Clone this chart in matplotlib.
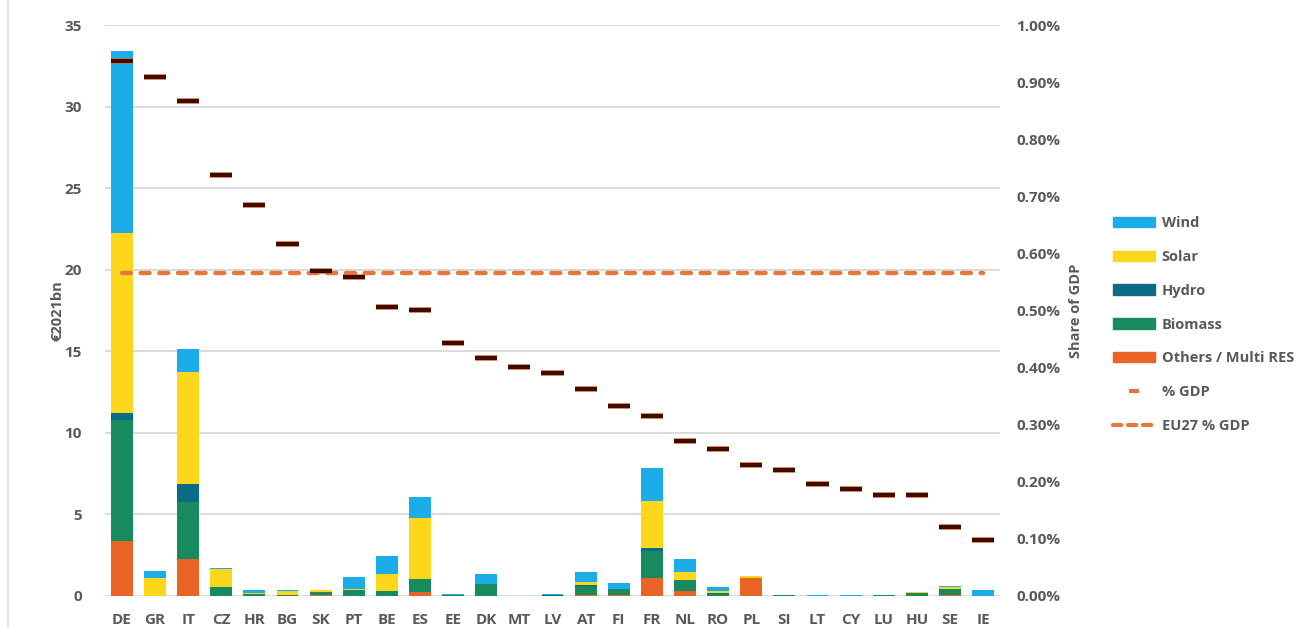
import matplotlib
matplotlib.use("Agg")
import matplotlib.pyplot as plt
import matplotlib.patheffects as pe
from matplotlib.lines import Line2D
from matplotlib.patches import Patch
from matplotlib.ticker import FuncFormatter, MultipleLocator
import numpy as np

countries = ["DE", "GR", "IT", "CZ", "HR", "BG", "SK", "PT", "BE", "ES", "EE", "DK", "MT", "LV",
             "AT", "FI", "FR", "NL", "RO", "PL", "SI", "LT", "CY", "LU", "HU", "SE", "IE"]

# support by technology, €2021bn
others = [3.35, 0, 2.24, 0, 0, 0, 0.08, 0, 0, 0.25, 0, 0, 0, 0,
          0.05, 0.04, 1.09, 0.30, 0, 1.10, 0, 0, 0, 0, 0, 0.08, 0]
biomass = [7.45, 0, 3.50, 0.52, 0.12, 0.03, 0.16, 0.35, 0.29, 0.80, 0.03, 0.72, 0, 0.02,
           0.58, 0.36, 1.65, 0.65, 0.14, 0, 0.07, 0, 0, 0.06, 0.18, 0.37, 0]
hydro = [0.40, 0, 1.12, 0, 0.03, 0, 0, 0.04, 0, 0, 0, 0, 0, 0.04,
         0.05, 0.05, 0.18, 0, 0.04, 0, 0, 0, 0, 0, 0, 0, 0]
solar = [11.05, 1.12, 6.89, 1.16, 0.05, 0.28, 0.15, 0.06, 1.07, 3.75, 0, 0.04, 0, 0,
         0.20, 0, 2.91, 0.52, 0.14, 0.15, 0.02, 0, 0.01, 0.02, 0.04, 0.12, 0]
wind = [11.15, 0.42, 1.38, 0.06, 0.17, 0.04, 0, 0.72, 1.10, 1.26, 0.08, 0.57, 0, 0.05,
        0.56, 0.33, 2.01, 0.78, 0.26, 0, 0, 0.05, 0.04, 0, 0.02, 0.03, 0.35]

# share of GDP, %
gdp_share = [0.937, 0.909, 0.867, 0.737, 0.685, 0.616, 0.569, 0.559, 0.506, 0.501, 0.443,
             0.417, 0.401, 0.391, 0.363, 0.333, 0.315, 0.271, 0.257, 0.229, 0.221, 0.196,
             0.187, 0.177, 0.177, 0.121, 0.098]
eu27_share = 0.565

C_WIND = "#1cade9"
C_SOLAR = "#fed71c"
C_HYDRO = "#0b6b86"
C_BIOMASS = "#178a5f"
C_OTHERS = "#ea6426"
C_GDP = "#e8773e"
C_TEXT = "#595959"

plt.rcParams["font.family"] = ["Open Sans", "DejaVu Sans"]
plt.rcParams["font.weight"] = "bold"

fig = plt.figure(figsize=(13, 6.28), dpi=100)
ax = fig.add_axes([0.081, 0.051, 0.688, 0.909])
ax2 = ax.twinx()

x = np.arange(len(countries))
width = 0.66
series = [(others, C_OTHERS), (biomass, C_BIOMASS), (hydro, C_HYDRO),
          (solar, C_SOLAR), (wind, C_WIND)]
bottom = np.zeros(len(countries))
for vals, col in series:
    vals = np.array(vals)
    ax.bar(x, vals, width, bottom=bottom, color=col, zorder=2)
    bottom += vals

ax.set_xlim(-0.5, len(countries) - 0.5)
ax.set_ylim(0, 35)
ax.yaxis.set_major_locator(MultipleLocator(5))
ax.grid(axis="y", color="#d9d9d9", linewidth=1.3, zorder=0)
ax.set_axisbelow(True)
ax.set_xticks(x)
ax.set_xticklabels(countries)
ax.tick_params(axis="both", length=0, labelsize=11, labelcolor=C_TEXT)
ax.tick_params(axis="y", pad=17)
ax.tick_params(axis="x", pad=12)
ax.set_ylabel("€2021bn", fontsize=10.5, fontweight="bold", color=C_TEXT, labelpad=0)

ax2.set_ylim(0, 1.0)
ax2.yaxis.set_major_locator(MultipleLocator(0.1))
ax2.yaxis.set_major_formatter(FuncFormatter(lambda v, p: f"{v:.2f}%"))
ax2.tick_params(axis="y", length=0, labelsize=11, labelcolor=C_TEXT, pad=12)
ax2.set_ylabel("Share of GDP", fontsize=10.5, fontweight="bold", color=C_TEXT, labelpad=6)

for a in (ax, ax2):
    for s in a.spines.values():
        s.set_visible(False)

ax2.plot(x, [eu27_share] * len(x), color=C_GDP, linewidth=3.2,
         linestyle=(0, (2.0, 2.2)), dash_capstyle="round", zorder=3)
ax2.plot(x, gdp_share, linestyle="none", marker="_", markersize=16, mew=3.0,
         color="#3a0c03", zorder=4,
         path_effects=[pe.Stroke(linewidth=4.0, foreground=C_GDP), pe.Normal()])

handles = [
    Patch(color=C_WIND, label="Wind"),
    Patch(color=C_SOLAR, label="Solar"),
    Patch(color=C_HYDRO, label="Hydro"),
    Patch(color=C_BIOMASS, label="Biomass"),
    Patch(color=C_OTHERS, label="Others / Multi RES"),
    Line2D([], [], linestyle="none", marker="_", markersize=7, mew=3, color=C_GDP,
           label="% GDP"),
    Line2D([], [], color=C_GDP, linewidth=3, linestyle=(0, (2.0, 1.6)),
           dash_capstyle="round", label="EU27 % GDP"),
]
leg = fig.legend(handles=handles, loc="upper left", bbox_to_anchor=(0.856, 0.656),
                 frameon=False, fontsize=10.5, handlelength=2.9, handleheight=0.7,
                 handletextpad=0.45, labelspacing=1.36, borderaxespad=0, borderpad=0)
for t in leg.get_texts():
    t.set_color(C_TEXT)

fig.add_artist(Line2D([0.006, 0.006], [0.0, 1.0], color="#dddddd", linewidth=1.2))

fig.savefig("out.png", dpi=100, facecolor="white")
